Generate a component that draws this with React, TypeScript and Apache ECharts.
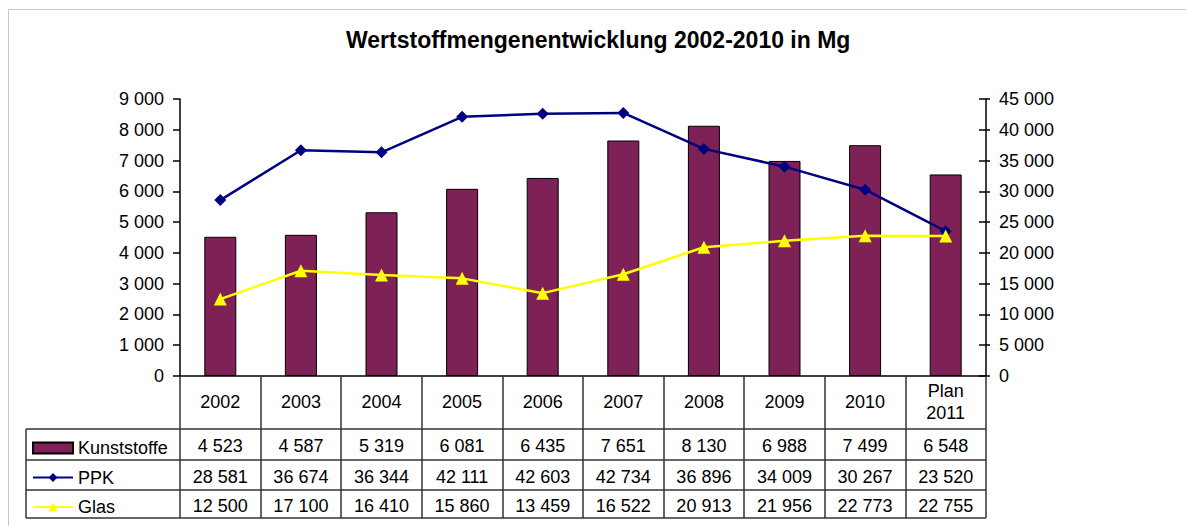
import React, { useEffect, useRef } from "react";
import * as echarts from "echarts";

const categories = ["2002", "2003", "2004", "2005", "2006", "2007", "2008", "2009", "2010", "Plan\n2011"];
const kunststoffe = [4523, 4587, 5319, 6081, 6435, 7651, 8130, 6988, 7499, 6548];
const ppk = [28581, 36674, 36344, 42111, 42603, 42734, 36896, 34009, 30267, 23520];
const glas = [12500, 17100, 16410, 15860, 13459, 16522, 20913, 21956, 22773, 22755];
const seriesNames = ["Kunststoffe", "PPK", "Glas"];
const leftAxis = { min: 0, max: 9000, interval: 1000 };
const rightAxis = { min: 0, max: 45000, interval: 5000 };

const fmt = (v: number) => String(v).replace(/\B(?=(\d{3})+(?!\d))/g, " ");

const FONT = "Arial, 'Liberation Sans', sans-serif";
const LINE = "#333333";

export default function App() {
  const ref = useRef<HTMLDivElement>(null);
  useEffect(() => {
    if (!ref.current) return;
    const chart = echarts.init(ref.current, undefined, { renderer: "svg" });
    const tableX0 = 26;
    const tableX1 = 986;
    const rowLines = [429, 460, 490, 518];
    const valueAxis = (data: number[], offset: number) => ({
      type: "category",
      gridIndex: 0,
      position: "bottom",
      offset,
      data: data.map(fmt),
      axisLine: { show: false, onZero: false },
      axisTick: { show: false },
      axisLabel: {
        interval: 0,
        margin: 0,
        verticalAlign: "middle",
        fontSize: 18,
        color: "#000",
        fontFamily: FONT,
      },
    });
    chart.setOption({
      animation: false,
      backgroundColor: "#fff",
      textStyle: { fontFamily: FONT },
      title: {
        text: "Wertstoffmengenentwicklung 2002-2010 in Mg",
        left: 341,
        top: 23,
        textStyle: { fontSize: 23, fontWeight: "bold", color: "#000", fontFamily: FONT },
      },
      grid: { left: 180, right: 200, top: 99, bottom: 150, containLabel: false },
      legend: {
        orient: "vertical",
        left: 32,
        top: 439,
        padding: 0,
        itemWidth: 40,
        itemHeight: 11,
        itemGap: 11.5,
        selectedMode: false,
        textStyle: { fontSize: 18, color: "#000", fontFamily: FONT },
        data: [{ name: seriesNames[0], icon: "rect" }, seriesNames[1], seriesNames[2]],
      },
      xAxis: [
        {
          type: "category",
          position: "bottom",
          data: categories,
          axisLine: { onZero: false, lineStyle: { color: "#000", width: 1.5 } },
          axisTick: { show: true, length: 142, lineStyle: { color: LINE, width: 1.5 } },
          axisLabel: {
            interval: 0,
            margin: 26,
            verticalAlign: "middle",
            lineHeight: 22,
            fontSize: 18,
            color: "#000",
            fontFamily: FONT,
          },
        },
        valueAxis(kunststoffe, 70),
        valueAxis(ppk, 100.5),
        valueAxis(glas, 129.5),
      ],
      yAxis: [
        {
          type: "value",
          position: "left",
          ...leftAxis,
          splitLine: { show: false },
          axisLine: { show: true, lineStyle: { color: "#000", width: 1.5 } },
          axisTick: { show: true, length: 7, lineStyle: { color: "#000", width: 1.5 } },
          axisLabel: { margin: 16, fontSize: 18, color: "#000", fontFamily: FONT, formatter: fmt },
        },
        {
          type: "value",
          position: "right",
          ...rightAxis,
          splitLine: { show: false },
          axisLine: { show: true, lineStyle: { color: "#000", width: 1.5 } },
          axisTick: { show: true, length: 4, lineStyle: { color: "#000", width: 1.5 } },
          axisLabel: { margin: 13, fontSize: 18, color: "#000", fontFamily: FONT, formatter: fmt },
        },
        {
          type: "value",
          position: "right",
          ...rightAxis,
          splitLine: { show: false },
          axisLine: { show: false },
          axisTick: { show: true, inside: true, length: 7, lineStyle: { color: "#000", width: 1.5 } },
          axisLabel: { show: false },
        },
      ],
      series: [
        {
          name: seriesNames[0],
          type: "bar",
          xAxisIndex: 0,
          yAxisIndex: 0,
          barWidth: 32,
          data: kunststoffe,
          itemStyle: { color: "#7E2157", borderColor: "#000", borderWidth: 1 },
        },
        {
          name: seriesNames[1],
          type: "line",
          xAxisIndex: 0,
          yAxisIndex: 1,
          data: ppk,
          symbol: "diamond",
          symbolSize: 12,
          lineStyle: { color: "#000080", width: 2.5 },
          itemStyle: { color: "#000080" },
        },
        {
          name: seriesNames[2],
          type: "line",
          xAxisIndex: 0,
          yAxisIndex: 1,
          data: glas,
          symbol: "triangle",
          symbolSize: 13,
          lineStyle: { color: "#FFFF00", width: 2.5 },
          itemStyle: { color: "#FFFF00" },
        },
      ],
      graphic: [
        {
          type: "rect",
          shape: { x: 8.5, y: 9.5, width: 1300, height: 700 },
          style: { fill: "none", stroke: "#c8c8c8", lineWidth: 1 },
          silent: true,
        },
        ...rowLines.map((y) => ({
          type: "line",
          shape: { x1: tableX0, y1: y, x2: tableX1, y2: y },
          style: { stroke: LINE, lineWidth: 1.5 },
          silent: true,
        })),
        {
          type: "line",
          shape: { x1: tableX0, y1: rowLines[0], x2: tableX0, y2: rowLines[3] },
          style: { stroke: LINE, lineWidth: 1.5 },
          silent: true,
        },
      ],
    });
    return () => chart.dispose();
  }, []);
  return (
    <div
      ref={ref}
      style={{ position: "absolute", left: 0, top: 0, width: 1186, height: 526 }}
    />
  );
}
